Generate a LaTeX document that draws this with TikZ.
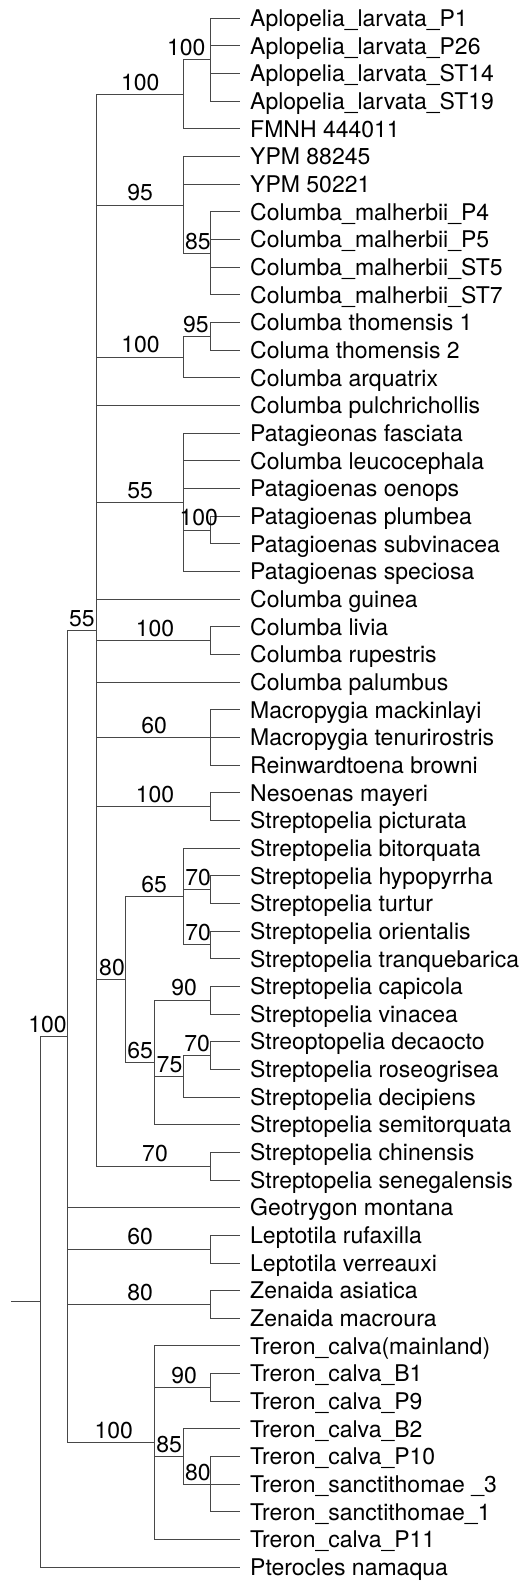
\documentclass[tikz,border=0pt]{standalone}
\usepackage{fontspec}
\setmainfont{TeX Gyre Heros}
\begin{document}
\begin{tikzpicture}[x=1pt,y=-1pt,
  br/.style={draw=black!72,line width=1pt},
  tip/.style={br,shorten >=10pt},
  leaf/.style={anchor=west,inner sep=0pt,text height=16.5pt,text depth=0pt,font=\fontsize{23}{27}\selectfont},
  bs/.style={anchor=base,inner sep=0pt,font=\fontsize{23}{27}\selectfont}]
\useasboundingbox (0,0) rectangle (531,1583);
% leaves
\node[leaf] (t0) at (250,18.30) {Aplopelia\_larvata\_P1};
\node[leaf] (t1) at (250,45.96) {Aplopelia\_larvata\_P26};
\node[leaf] (t2) at (250,73.62) {Aplopelia\_larvata\_ST14};
\node[leaf] (t3) at (250,101.28) {Aplopelia\_larvata\_ST19};
\node[leaf] (t4) at (250,128.94) {FMNH 444011};
\node[leaf] (t5) at (250,156.60) {YPM 88245};
\node[leaf] (t6) at (250,184.26) {YPM 50221};
\node[leaf] (t7) at (250,211.92) {Columba\_malherbii\_P4};
\node[leaf] (t8) at (250,239.58) {Columba\_malherbii\_P5};
\node[leaf] (t9) at (250,267.24) {Columba\_malherbii\_ST5};
\node[leaf] (t10) at (250,294.90) {Columba\_malherbii\_ST7};
\node[leaf] (t11) at (250,322.56) {Columba thomensis 1};
\node[leaf] (t12) at (250,350.22) {Columa thomensis 2};
\node[leaf] (t13) at (250,377.88) {Columba arquatrix};
\node[leaf] (t14) at (250,405.54) {Columba pulchrichollis};
\node[leaf] (t15) at (250,433.20) {Patagieonas fasciata};
\node[leaf] (t16) at (250,460.86) {Columba leucocephala};
\node[leaf] (t17) at (250,488.52) {Patagioenas oenops};
\node[leaf] (t18) at (250,516.18) {Patagioenas plumbea};
\node[leaf] (t19) at (250,543.84) {Patagioenas subvinacea};
\node[leaf] (t20) at (250,571.50) {Patagioenas speciosa};
\node[leaf] (t21) at (250,599.16) {Columba guinea};
\node[leaf] (t22) at (250,626.82) {Columba livia};
\node[leaf] (t23) at (250,654.48) {Columba rupestris};
\node[leaf] (t24) at (250,682.14) {Columba palumbus};
\node[leaf] (t25) at (250,709.80) {Macropygia mackinlayi};
\node[leaf] (t26) at (250,737.46) {Macropygia tenurirostris};
\node[leaf] (t27) at (250,765.12) {Reinwardtoena browni};
\node[leaf] (t28) at (250,792.78) {Nesoenas mayeri};
\node[leaf] (t29) at (250,820.44) {Streptopelia picturata};
\node[leaf] (t30) at (250,848.10) {Streptopelia bitorquata};
\node[leaf] (t31) at (250,875.76) {Streptopelia hypopyrrha};
\node[leaf] (t32) at (250,903.42) {Streptopelia turtur};
\node[leaf] (t33) at (250,931.08) {Streptopelia orientalis};
\node[leaf] (t34) at (250,958.74) {Streptopelia tranquebarica};
\node[leaf] (t35) at (250,986.40) {Streptopelia capicola};
\node[leaf] (t36) at (250,1014.06) {Streptopelia vinacea};
\node[leaf] (t37) at (250,1041.72) {Streoptopelia decaocto};
\node[leaf] (t38) at (250,1069.38) {Streptopelia roseogrisea};
\node[leaf] (t39) at (250,1097.04) {Streptopelia decipiens};
\node[leaf] (t40) at (250,1124.70) {Streptopelia semitorquata};
\node[leaf] (t41) at (250,1152.36) {Streptopelia chinensis};
\node[leaf] (t42) at (250,1180.02) {Streptopelia senegalensis};
\node[leaf] (t43) at (250,1207.68) {Geotrygon montana};
\node[leaf] (t44) at (250,1235.34) {Leptotila rufaxilla};
\node[leaf] (t45) at (250,1263.00) {Leptotila verreauxi};
\node[leaf] (t46) at (250,1290.66) {Zenaida asiatica};
\node[leaf] (t47) at (250,1318.32) {Zenaida macroura};
\node[leaf] (t48) at (250,1345.98) {Treron\_calva(mainland)};
\node[leaf] (t49) at (250,1373.64) {Treron\_calva\_B1};
\node[leaf] (t50) at (250,1401.30) {Treron\_calva\_P9};
\node[leaf] (t51) at (250,1428.96) {Treron\_calva\_B2};
\node[leaf] (t52) at (250,1456.62) {Treron\_calva\_P10};
\node[leaf] (t53) at (250,1484.28) {Treron\_sanctithomae \_3};
\node[leaf] (t54) at (250,1511.94) {Treron\_sanctithomae\_1};
\node[leaf] (t55) at (250,1539.60) {Treron\_calva\_P11};
\node[leaf] (t56) at (250,1567.26) {Pterocles namaqua};
% internal nodes
\coordinate (r0) at (11,1301.9);
\coordinate (root) at (40,1301.9);
\coordinate (nB) at (67.7,1036.54);
\coordinate (n55) at (96.3,630.28);
\coordinate (nA) at (183.3,94.37);
\coordinate (nA4) at (210.3,59.79);
\coordinate (nY) at (183.3,205.0);
\coordinate (nM) at (210.3,253.41);
\coordinate (nT) at (183.3,357.14);
\coordinate (nT2) at (210.3,336.39);
\coordinate (nP) at (183.3,502.35);
\coordinate (nPp) at (210.3,530.01);
\coordinate (nL) at (210.3,640.65);
\coordinate (nMa) at (210.3,737.46);
\coordinate (nN) at (210.3,806.61);
\coordinate (nS80) at (125.3,979.49);
\coordinate (nS65a) at (183.3,896.51);
\coordinate (nH) at (210.3,889.59);
\coordinate (nO) at (210.3,944.91);
\coordinate (nS65b) at (154.3,1062.47);
\coordinate (nCv) at (210.3,1000.23);
\coordinate (n75) at (183.3,1076.30);
\coordinate (nD) at (210.3,1055.55);
\coordinate (nCh) at (210.3,1166.19);
\coordinate (nLe) at (210.3,1249.17);
\coordinate (nZ) at (210.3,1304.49);
\coordinate (nTr) at (154.3,1442.79);
\coordinate (nTB) at (210.3,1387.47);
\coordinate (nT85) at (183.3,1456.62);
\coordinate (nTs) at (210.3,1484.28);
% internal connectors
\draw[br] (r0) -- (root);
\foreach \p/\c in {root/nB, nB/n55, nB/nLe, nB/nZ, nB/nTr,
  n55/nA, n55/nY, n55/nT, n55/nP, n55/nL, n55/nMa, n55/nN, n55/nS80, n55/nCh,
  nA/nA4, nY/nM, nT/nT2, nP/nPp, nS80/nS65a, nS80/nS65b, nS65a/nH, nS65a/nO,
  nS65b/nCv, nS65b/n75, n75/nD, nTr/nTB, nTr/nT85, nT85/nTs}
  \draw[br] (\p) |- (\c);
% leaf connectors
\foreach \p/\c in {root/t56, nB/t43, n55/t14, n55/t21, n55/t24,
  nA4/t0, nA4/t1, nA4/t2, nA4/t3, nA/t4, nY/t5, nY/t6,
  nM/t7, nM/t8, nM/t9, nM/t10, nT2/t11, nT2/t12, nT/t13,
  nP/t15, nP/t16, nP/t17, nPp/t18, nPp/t19, nP/t20,
  nL/t22, nL/t23, nMa/t25, nMa/t26, nMa/t27, nN/t28, nN/t29,
  nS65a/t30, nH/t31, nH/t32, nO/t33, nO/t34, nCv/t35, nCv/t36,
  nD/t37, nD/t38, n75/t39, nS65b/t40, nCh/t41, nCh/t42,
  nLe/t44, nLe/t45, nZ/t46, nZ/t47, nTr/t48, nTB/t49, nTB/t50,
  nT85/t51, nTs/t52, nTs/t53, nTs/t54, nTr/t55}
  \draw[tip] (\p) |- (\c.west);
% bootstrap labels
\node[bs] (b1) at (47.5,1032.2) {100};
\node[bs] (b2) at (81.8,626.0) {55};
\node[bs] (b3) at (140.3,90.1) {100};
\node[bs] (b4) at (186.2,55.5) {100};
\node[bs] (b5) at (140.2,200.7) {95};
\node[bs] (b6) at (197.8,249.1) {85};
\node[bs] (b7) at (140.5,352.8) {100};
\node[bs] (b8) at (195.8,332.1) {95};
\node[bs] (b9) at (140.2,498.0) {55};
\node[bs] (b10) at (198.8,525.7) {100};
\node[bs] (b11) at (155,636.3) {100};
\node[bs] (b12) at (154.2,733.2) {60};
\node[bs] (b13) at (155,802.3) {100};
\node[bs] (b14) at (112,975.2) {80};
\node[bs] (b15) at (154.2,892.2) {65};
\node[bs] (b16) at (198.2,885.3) {70};
\node[bs] (b17) at (198.2,940.6) {70};
\node[bs] (b18) at (184.2,995.9) {90};
\node[bs] (b19) at (140.2,1058.2) {65};
\node[bs] (b20) at (169.5,1072.0) {75};
\node[bs] (b21) at (197.2,1051.3) {70};
\node[bs] (b22) at (155,1161.9) {70};
\node[bs] (b23) at (140.2,1244.9) {60};
\node[bs] (b24) at (140.2,1300.2) {80};
\node[bs] (b25) at (113.7,1438.5) {100};
\node[bs] (b26) at (184.2,1383.2) {90};
\node[bs] (b27) at (169.2,1452.3) {85};
\node[bs] (b28) at (197.8,1480.0) {80};
\end{tikzpicture}
\end{document}
